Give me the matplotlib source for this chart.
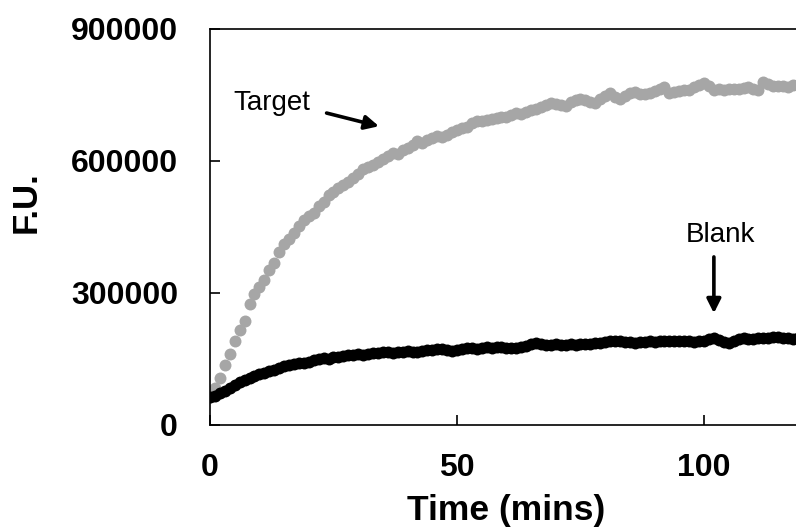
import matplotlib.pyplot as plt
import numpy as np

plt.rcParams['font.family'] = ['Liberation Sans', 'DejaVu Sans']

# time in minutes, one reading per minute
time_min = np.arange(0, 121)

# fluorescence units (thousands)
target_k = [
    64, 84, 107, 136, 161, 191, 216, 236, 275, 298,
    314, 330, 352, 368, 393, 411, 423, 436, 452, 466,
    475, 482, 498, 507, 523, 530, 538, 545, 552, 561,
    570, 582, 586, 590, 598, 604, 612, 618, 616, 626,
    630, 636, 646, 642, 648, 652, 656, 654, 660, 666,
    670, 675, 678, 686, 692, 690, 694, 696, 698, 701,
    700, 704, 708, 706, 711, 715, 718, 722, 728, 731,
    730, 727, 725, 733, 738, 742, 738, 734, 732, 740,
    748, 754, 746, 742, 748, 754, 757, 753, 752, 754,
    758, 764, 769, 754, 757, 760, 761, 762, 768, 772,
    777, 770, 761, 763, 762, 764, 763, 763, 767, 769,
    764, 761, 780, 776, 770, 771, 770, 768, 773, 772,
    770,
]
blank_k = [
    63, 65, 72, 78, 85, 90, 97, 102, 107, 112,
    116, 119, 122, 126, 130, 134, 136, 139, 141, 142,
    144, 147, 150, 152, 151, 154, 155, 157, 158, 160,
    161, 160, 162, 164, 163, 165, 166, 164, 167, 167,
    168, 166, 167, 169, 170, 171, 172, 173, 171, 169,
    170, 172, 174, 175, 173, 176, 177, 175, 178, 177,
    176, 174, 174, 177, 180, 183, 186, 184, 181, 182,
    183, 181, 182, 184, 182, 183, 185, 184, 186, 187,
    188, 190, 192, 191, 189, 188, 187, 188, 189, 190,
    189, 190, 191, 192, 190, 192, 191, 190, 189, 190,
    192, 195, 197, 193, 188, 186, 190, 196, 197, 195,
    196, 197, 198, 197, 199, 200, 198, 197, 196, 198,
    197,
]
target = np.array(target_k) * 1000
blank = np.array(blank_k) * 1000

fig = plt.figure(figsize=(7.96, 5.27), dpi=100)
ax = fig.add_axes([210 / 796, 102 / 527, 592.8 / 796, 396 / 527])

ax.plot(time_min, target, 'o', color='#A6A6A6', markersize=8.6, markeredgewidth=0)
ax.plot(time_min, blank, 'o', color='black', markersize=8.6, markeredgewidth=0)

ax.set_xlim(0, 120)
ax.set_ylim(0, 900000)
ax.set_xticks([0, 50, 100])
ax.set_yticks([0, 300000, 600000, 900000])
ax.set_yticklabels(['0', '300000', '600000', '900000'])

for s in ax.spines.values():
    s.set_linewidth(1.2)
ax.tick_params(direction='in', length=7, width=1.2)
ax.tick_params(axis='x', pad=20, labelsize=23)
ax.tick_params(axis='y', pad=23, labelsize=23)
for lbl in ax.get_xticklabels() + ax.get_yticklabels():
    lbl.set_fontweight('bold')

ax.set_xlabel('Time (mins)', fontsize=25.5, fontweight='bold', labelpad=8)
ax.set_ylabel('F.U.', fontsize=25, fontweight='bold')
ax.yaxis.set_label_coords(-0.282, 0.563)

# labels and arrows
ax.text(12.5, 731800, 'Target', fontsize=20, ha='center', va='center')
ax.annotate('', xy=(34.2, 679000), xytext=(23.6, 709000),
            arrowprops=dict(arrowstyle='-|>', color='black', lw=2.6,
                            mutation_scale=21, shrinkA=0, shrinkB=0))
ax.text(103.4, 431800, 'Blank', fontsize=20, ha='center', va='center')
ax.annotate('', xy=(102, 254000), xytext=(102, 382000),
            arrowprops=dict(arrowstyle='-|>', color='black', lw=2.6,
                            mutation_scale=21, shrinkA=0, shrinkB=0))

fig.savefig('out.png', dpi=100)
